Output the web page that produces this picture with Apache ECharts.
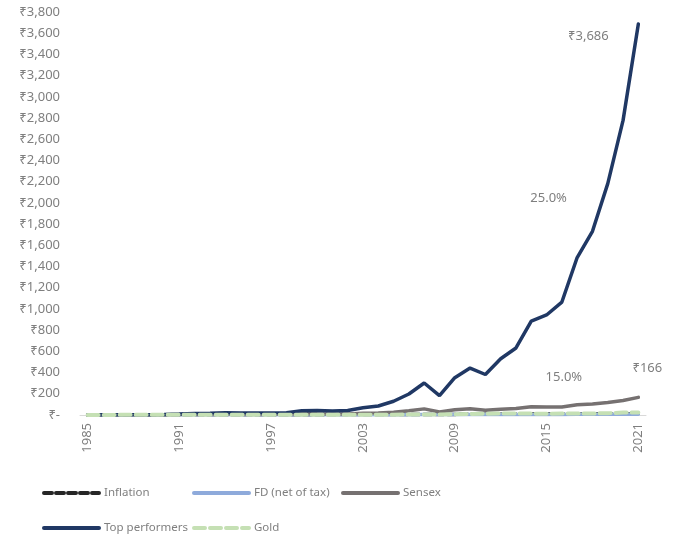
<!DOCTYPE html>
<html>
<head>
<meta charset="utf-8">
<script src="https://cdn.jsdelivr.net/npm/echarts@6/dist/echarts.min.js"></script>
<style>
  html, body { margin: 0; padding: 0; background: #ffffff; }
  #chart { width: 675px; height: 539px; }
</style>
</head>
<body>
<div id="chart"></div>
<script>
// Growth of ₹1 invested in 1985, by asset class
const years = ['1985','1986','1987','1988','1989','1990','1991','1992','1993','1994',
  '1995','1996','1997','1998','1999','2000','2001','2002','2003','2004',
  '2005','2006','2007','2008','2009','2010','2011','2012','2013','2014',
  '2015','2016','2017','2018','2019','2020','2021'];

const inflation = [1, 1.09, 1.18, 1.29, 1.34, 1.46, 1.66, 1.86, 1.98, 2.18,
  2.40, 2.62, 2.81, 3.18, 3.33, 3.46, 3.59, 3.75, 3.89, 4.04,
  4.21, 4.46, 4.75, 5.15, 5.71, 6.39, 6.96, 7.61, 8.44, 8.98,
  9.51, 9.98, 10.31, 10.71, 11.11, 11.84, 12.44];

const fdNetOfTax = [1, 1.07, 1.14, 1.22, 1.31, 1.40, 1.50, 1.61, 1.71, 1.82,
  1.95, 2.10, 2.25, 2.40, 2.55, 2.70, 2.85, 3.00, 3.13, 3.25,
  3.38, 3.52, 3.69, 3.88, 4.07, 4.26, 4.48, 4.73, 4.99, 5.26,
  5.53, 5.79, 6.05, 6.32, 6.62, 6.91, 7.16];

const sensex = [1, 1.5, 1.3, 1.9, 2.2, 3.0, 5.4, 7.5, 9.5, 11.2,
  8.9, 8.8, 10.4, 8.7, 14.3, 11.3, 9.3, 9.6, 16.6, 18.8,
  26.8, 39.3, 57.8, 27.5, 49.8, 58.4, 44.0, 55.3, 60.3, 78.3,
  74.4, 75.9, 97.0, 102.8, 117.5, 136.0, 166];

const topPerformers = [1, 1.4, 1.6, 2.6, 3.3, 5, 9, 14, 17, 22,
  19, 18, 20, 22, 40, 42, 38, 42, 68, 85,
  130, 198, 302, 182, 352, 443, 382, 530, 632, 886,
  943, 1065, 1485, 1732, 2182, 2778, 3686];

const gold = [1, 1.0, 1.21, 1.47, 1.47, 1.5, 1.63, 2.03, 1.94, 2.16,
  2.2, 2.42, 2.22, 1.9, 1.99, 2.07, 2.02, 2.34, 2.63, 2.75,
  3.29, 3.94, 5.07, 5.87, 6.81, 8.69, 12.4, 14.6, 13.9, 13.1,
  12.4, 13.4, 13.9, 14.8, 16.5, 22.8, 22.9];

// CAGR notes placed beside the two equity curves
const cagrNotes = [
  { series: 'Top performers', text: '25.0%', year: '2015', value: 2040 },
  { series: 'Sensex', text: '15.0%', year: '2016', value: 360 }
];

const FONT = '"Noto Sans", "DejaVu Sans", sans-serif';
const GREY = '#7f7f7f';

function rupee(v) {
  if (v === 0) return '₹-';
  return '₹' + v.toLocaleString('en-US');
}

function noteFor(name) {
  const n = cagrNotes.find(d => d.series === name);
  if (!n) return undefined;
  return {
    symbol: 'circle',
    symbolSize: 1,
    silent: true,
    itemStyle: { color: 'rgba(0,0,0,0)' },
    label: {
      show: true, position: 'inside', formatter: n.text, offset: [2, 0],
      color: GREY, fontFamily: FONT, fontSize: 13
    },
    data: [{ coord: [n.year, n.value] }]
  };
}

const seriesDefs = [
  { name: 'Inflation', data: inflation, color: '#262626', width: 3.5, type: [8, 4] },
  { name: 'FD (net of tax)', data: fdNetOfTax, color: '#8eaadb', width: 3.5, type: 'solid' },
  { name: 'Sensex', data: sensex, color: '#767171', width: 3.5, type: 'solid',
    end: { offset: [9, -29] } },
  { name: 'Top performers', data: topPerformers, color: '#203864', width: 3.5, type: 'solid',
    end: { offset: [-50, 12] } },
  { name: 'Gold', data: gold, color: '#c5e0b4', width: 4, type: [11, 5] }
];

const series = seriesDefs.map(d => {
  const s = {
    name: d.name,
    type: 'line',
    data: d.data,
    symbol: 'none',
    smooth: false,
    color: d.color,
    lineStyle: { color: d.color, width: d.width, type: d.type, cap: 'round' },
    emphasis: { disabled: true }
  };
  if (d.end) {
    s.endLabel = {
      show: true,
      formatter: p => rupee(p.value),
      color: GREY,
      fontFamily: FONT,
      fontSize: 13,
      distance: 0,
      align: 'center',
      verticalAlign: 'middle',
      offset: d.end.offset
    };
  }
  const mp = noteFor(d.name);
  if (mp) s.markPoint = mp;
  return s;
});

// one legend block per entry so each sits where it belongs
const legendSlots = [
  { name: 'Inflation', left: 42, top: 487 },
  { name: 'FD (net of tax)', left: 192, top: 487 },
  { name: 'Sensex', left: 341, top: 487 },
  { name: 'Top performers', left: 42, top: 522 },
  { name: 'Gold', left: 192, top: 522 }
];

const legends = legendSlots.map(l => ({
  data: [l.name],
  left: l.left,
  top: l.top,
  padding: 0,
  itemWidth: 55,
  itemHeight: 10,
  itemGap: 0,
  selectedMode: false,
  itemStyle: { opacity: 0 },
  lineStyle: { width: 4, cap: 'round' },
  textStyle: { color: GREY, fontFamily: FONT, fontSize: 11.5 }
}));

const chart = echarts.init(document.getElementById('chart'), null, { renderer: 'canvas' });
chart.setOption({
  animation: false,
  backgroundColor: '#ffffff',
  grid: { left: 80, right: 29, top: 12, bottom: 124, containLabel: false },
  legend: legends,
  xAxis: {
    type: 'category',
    data: years,
    boundaryGap: true,
    axisLine: { lineStyle: { color: '#d9d9d9', width: 1 } },
    axisTick: { show: false },
    axisLabel: {
      interval: 5,
      rotate: 90,
      color: GREY,
      fontFamily: FONT,
      fontSize: 13,
      margin: 8
    },
    splitLine: { show: false }
  },
  yAxis: {
    type: 'value',
    min: 0,
    max: 3800,
    interval: 200,
    axisLine: { show: false },
    axisTick: { show: false },
    splitLine: { show: false },
    axisLabel: {
      formatter: rupee,
      color: GREY,
      fontFamily: FONT,
      fontSize: 13,
      margin: 20
    }
  },
  series: series
});
</script>
</body>
</html>
